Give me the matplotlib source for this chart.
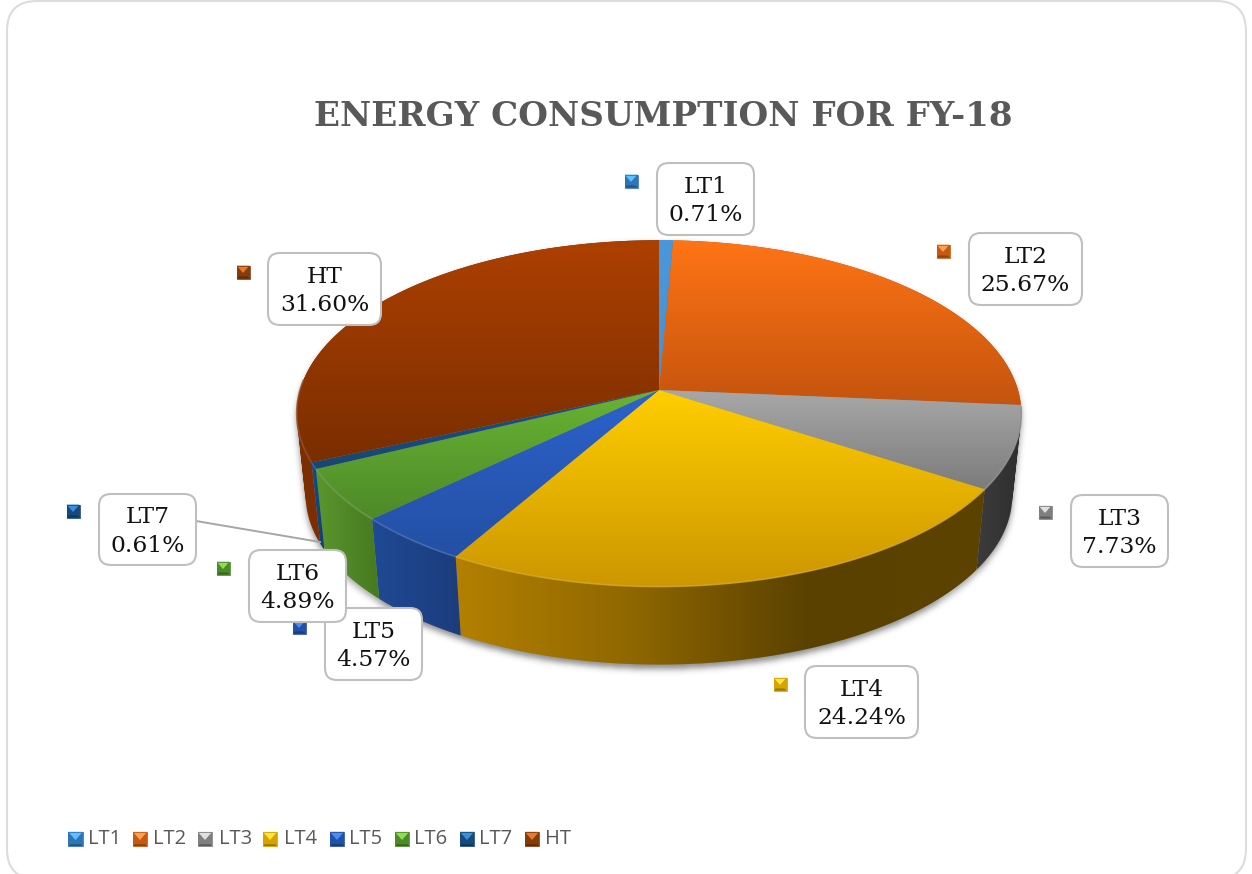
#!/usr/bin/env python3
import numpy as np
import matplotlib
matplotlib.use("Agg")
import matplotlib.pyplot as plt
from matplotlib.colors import LinearSegmentedColormap, to_rgb
from matplotlib.patches import FancyBboxPatch, Polygon, PathPatch
from matplotlib.path import Path

categories = ["LT1", "LT2", "LT3", "LT4", "LT5", "LT6", "LT7", "HT"]
shares = [0.71, 25.67, 7.73, 24.24, 4.57, 4.89, 0.61, 31.60]
title = "ENERGY CONSUMPTION FOR FY-18"

# top face gradient (top, bottom of each slice), rim wall gradient (left to right)
face_colors = [
    ("#4a98dc", "#4690d2"),
    ("#ff7415", "#c4540e"),
    ("#a8a8a8", "#7c7c7c"),
    ("#ffce00", "#cc9600"),
    ("#2c62cc", "#2450a4"),
    ("#68b433", "#4e8a29"),
    ("#1b5288", "#174672"),
    ("#ad4000", "#7a2e00"),
]
wall_colors = [
    ("#3a78b0", "#3a78b0"),
    ("#a04a0c", "#a04a0c"),
    ("#3c3c3c", "#2e2e2e"),
    ("#b38000", "#8f6700", "#5a4100", "#5c4300"),
    ("#1f4a94", "#1c3c7c"),
    ("#5a962e", "#47791f"),
    ("#125090", "#123f6b"),
    ("#7e2f00", "#6a2800"),
]
marker_colors = ["#2e75b6", "#c55a11", "#7f7f7f", "#d6a300",
                 "#2450a8", "#4f8a2a", "#174a7c", "#843c0c"]
marker_tops = ["#5ec0ff", "#ffa050", "#e0e0e0", "#ffe640",
               "#4a8cf0", "#8ce050", "#3a90d8", "#e87a28"]

# label box corners (left, top, right, bottom) and the little marker beside each
label_boxes = [
    (657, 163, 754, 235), (969, 233, 1082, 305), (1071, 495, 1168, 567),
    (805, 666, 918, 738), (325, 608, 422, 680), (249, 550, 346, 622),
    (99, 494, 196, 565), (268, 253, 381, 325),
]
label_markers = [(631, 181), (943, 251), (1045, 512), (780, 684),
                 (299, 627), (223, 568), (73, 511), (243, 272)]
legend_marker_x = [75.5, 140, 205, 270, 337, 402, 467, 532]
legend_text_x = [88, 153, 219, 284, 349, 414, 479, 545]

# pie geometry in pixels
CX, CY = 659, 390
RX, RY = 359, 170
PERSP = 0.135
LOW_SCALE = 0.975  # the lower rim is a bit smaller than the top one
LOW_DROP = 83


def project(theta):
    """Circle point (clockwise from the top, degrees) to picture coordinates."""
    t = np.radians(theta)
    s = 1 / (1 + PERSP * np.cos(t))
    return np.column_stack([CX + RX * np.sin(t) * s, CY - RY * np.cos(t) * s])


def lower_rim(rim):
    centre = np.array([CX, CY])
    return centre + (rim - centre) * LOW_SCALE + np.array([0, LOW_DROP])


def gradient_image(ax, pts, colors, horizontal, zorder):
    cmap = LinearSegmentedColormap.from_list("g", colors)
    x0, y0 = pts.min(axis=0)
    x1, y1 = pts.max(axis=0)
    grad = np.linspace(0, 1, 256)
    grad = grad[None, :] if horizontal else grad[:, None]
    return ax.imshow(grad, cmap=cmap, extent=(x0, x1, y1, y0), origin="upper",
                     aspect="auto", zorder=zorder, interpolation="bilinear")


def fill_face(ax, pts, colors, zorder=3):
    im = gradient_image(ax, pts, colors, False, zorder)
    poly = Polygon(pts, closed=True, fc="none", ec="none")
    ax.add_patch(poly)
    im.set_clip_path(poly)


def fill_wall(ax, rim, colors, zorder=2):
    """Wall as a union of quads, so it also covers the sides past the tangent."""
    low = lower_rim(rim)
    verts, codes = [], []
    for a, b, c, d in zip(rim[:-1], rim[1:], low[1:], low[:-1]):
        quad = np.array([a, b, c, d])
        x, y = quad[:, 0], quad[:, 1]
        if np.dot(x, np.roll(y, 1)) - np.dot(y, np.roll(x, 1)) < 0:
            quad = quad[::-1]
        verts.extend(list(quad) + [quad[0]])
        codes.extend([Path.MOVETO, Path.LINETO, Path.LINETO, Path.LINETO, Path.CLOSEPOLY])
    im = gradient_image(ax, np.vstack([rim, low]), colors, True, zorder)
    patch = PathPatch(Path(np.array(verts), codes), fc="none", ec="none")
    ax.add_patch(patch)
    im.set_clip_path(patch)


def lighten(color, amount):
    c = np.array(to_rgb(color))
    return tuple(c + (1 - c) * amount)


def bevel_square(ax, x, y, size, base, top, zorder=6):
    h = size / 2
    tl, tr = (x - h, y - h), (x + h, y - h)
    bl, br = (x - h, y + h), (x + h, y + h)
    c = (x, y + 1)
    ax.add_patch(Polygon([tl, tr, br, bl], fc=base, ec="none", zorder=zorder))
    ax.add_patch(Polygon([tl, tr, c], fc=top, ec="none", zorder=zorder))
    dark = tuple(np.array(to_rgb(base)) * 0.72)
    ax.add_patch(Polygon([bl, br, (x + h - 2, y + h - 2), (x - h + 2, y + h - 2)],
                         fc=dark, ec="none", zorder=zorder))
    ax.add_patch(Polygon([tl, tr, br, bl], fc="none", ec=base, lw=0.6, zorder=zorder))


def draw_shadow(ax, top, low):
    h, w = 874, 1252
    left = np.full(h, np.inf)
    right = np.full(h, -np.inf)
    # sweep the rim down to the lower rim and keep the extent of each pixel row
    for t in np.linspace(0, 1, 60):
        pts = top * (1 - t) + low * t + np.array([0, 4])
        rows = np.clip(pts[:, 1].astype(int), 0, h - 1)
        np.minimum.at(left, rows, pts[:, 0])
        np.maximum.at(right, rows, pts[:, 0])
    xx = np.arange(w)[None, :] + 0.5
    mask = ((xx >= left[:, None]) & (xx <= right[:, None])).astype(float)
    kernel = np.exp(-0.5 * (np.arange(-9, 10) / 3.2) ** 2)
    kernel /= kernel.sum()
    mask = np.apply_along_axis(np.convolve, 0, mask, kernel, mode="same")
    mask = np.apply_along_axis(np.convolve, 1, mask, kernel, mode="same")
    rgba = np.zeros((h, w, 4))
    rgba[..., :3] = 0.25
    rgba[..., 3] = mask * 0.6
    ax.imshow(rgba, extent=(0, w, h, 0), origin="upper", aspect="auto", zorder=1)


def main():
    fig = plt.figure(figsize=(12.52, 8.74), dpi=100)
    ax = fig.add_axes([0, 0, 1, 1])

    ax.add_patch(FancyBboxPatch((35, 29), 1183, 822,
                                boxstyle="round,pad=28,rounding_size=30",
                                fc="white", ec="#dcdcdc", lw=1.5, zorder=0))

    fractions = np.array(shares) / np.sum(shares)
    edges = np.concatenate([[0], np.cumsum(fractions)]) * 360

    # soft shadow of the whole disc with its wall
    ring = project(np.linspace(0, 360, 721))
    draw_shadow(ax, ring, lower_rim(ring))

    # walls first, the top faces then cover whatever lies behind them
    for i in range(len(shares)):
        rim = project(np.linspace(edges[i], edges[i + 1], 80))
        fill_wall(ax, rim, wall_colors[i])

    for i in range(len(shares)):
        theta = np.linspace(edges[i], edges[i + 1], 80)
        rim = project(theta)
        fill_face(ax, np.vstack([[CX, CY], rim]), face_colors[i])
        # small bevel highlight on the front of the rim only
        front = (theta > 95) & (theta < 275)
        if front.any():
            ax.plot(rim[front, 0], rim[front, 1], color=lighten(face_colors[i][1], 0.18),
                    lw=1.2, alpha=0.8, zorder=3.5, solid_capstyle="butt")

    ax.text(663.5, 117, title, family="DejaVu Serif", weight="bold", fontsize=24.6,
            color="#595959", ha="center", va="center", zorder=8)

    # leader line of the LT7 label
    ax.plot([196, 320], [521, 542], color="#a6a6a6", lw=1.4, zorder=4)

    for i, name in enumerate(categories):
        mx, my = label_markers[i]
        bevel_square(ax, mx, my, 13, marker_colors[i], marker_tops[i], zorder=5)
        x0, y0, x1, y1 = label_boxes[i]
        z = 6 + 0.1 * i if name not in ("LT5", "HT") else 5.5
        ax.add_patch(FancyBboxPatch((x0 + 12, y0 + 12), x1 - x0 - 24, y1 - y0 - 24,
                                    boxstyle="round,pad=12,rounding_size=12",
                                    fc="white", ec="#bfbfbf", lw=1.5, zorder=z))
        ax.text((x0 + x1) / 2, (y0 + y1) / 2 + 2, f"{name}\n{shares[i]:.2f}%",
                family="DejaVu Serif", fontsize=16.8, color="#111111",
                ha="center", va="center", linespacing=1.4, zorder=z + 0.05)

    for i, name in enumerate(categories):
        bevel_square(ax, legend_marker_x[i], 839, 14.5, marker_colors[i], marker_tops[i])
        ax.text(legend_text_x[i], 839, name, family="Open Sans", fontsize=14.5,
                color="#595959", ha="left", va="center", zorder=6)

    ax.set_xlim(0, 1252)
    ax.set_ylim(874, 0)
    ax.axis("off")
    fig.savefig("out.png", dpi=100, facecolor="white")


if __name__ == "__main__":
    main()
